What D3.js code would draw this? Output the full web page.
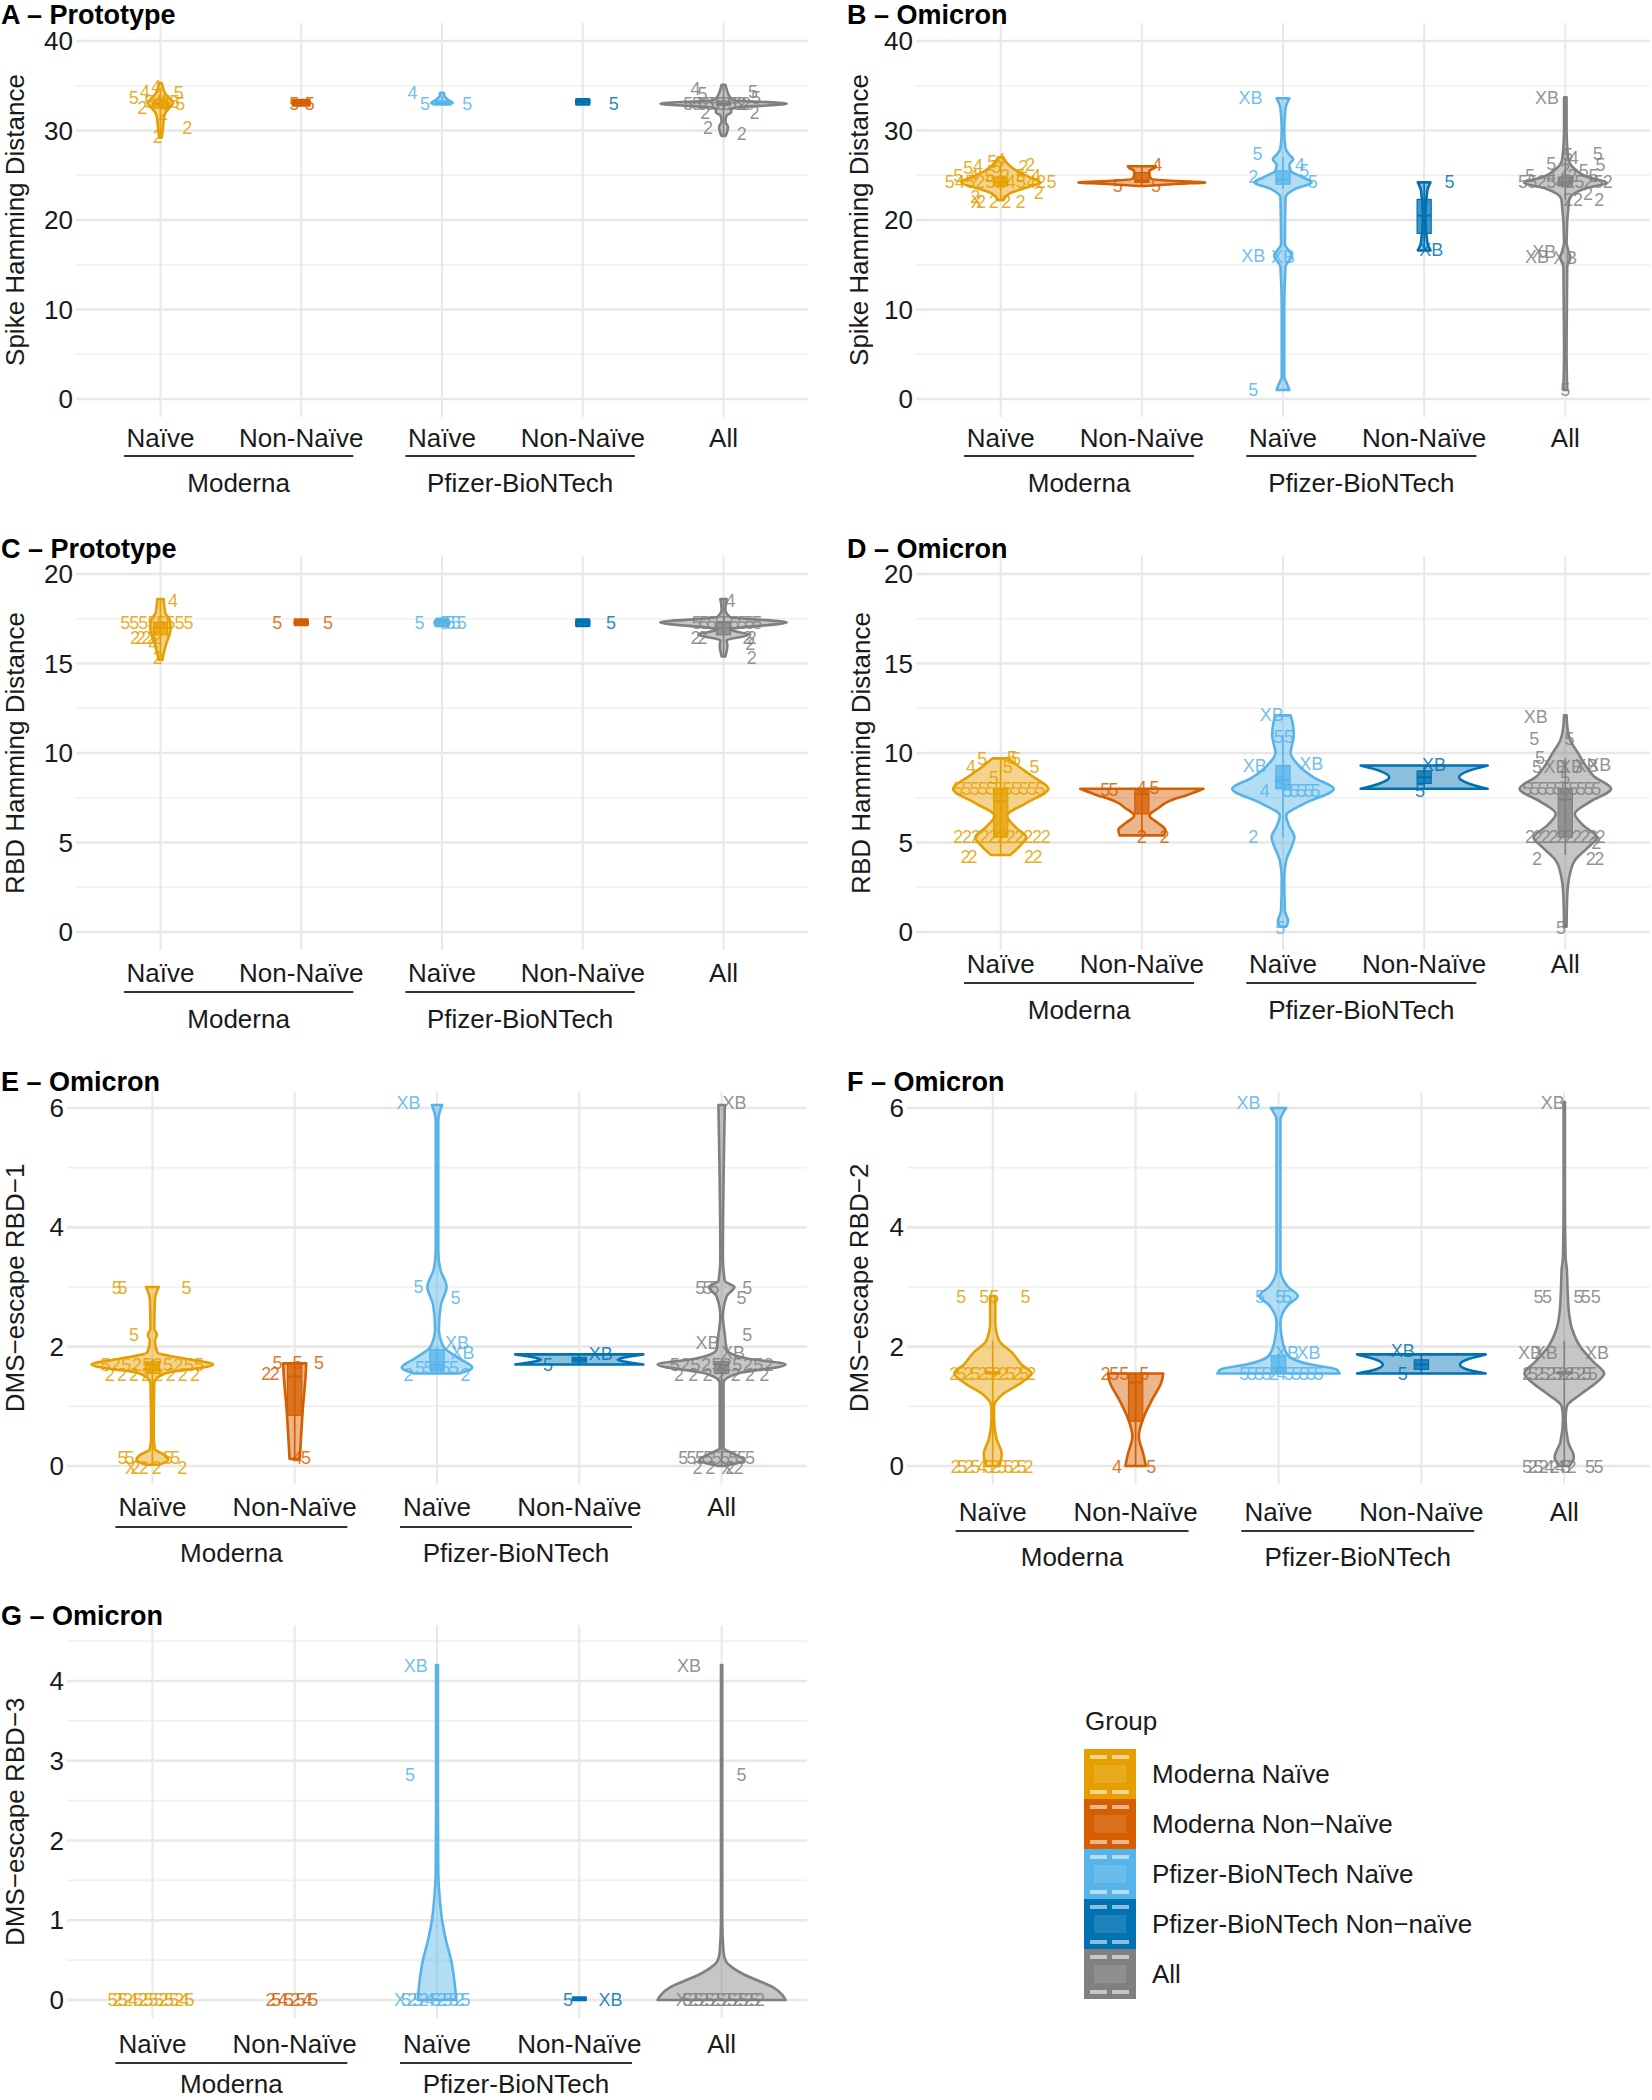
<!DOCTYPE html>
<html>
<head>
<meta charset="utf-8">
<script src="https://cdn.jsdelivr.net/npm/d3@7"></script>
<style>
  body { margin: 0; background: #fff; }
  text { font-family: "Liberation Sans", Arial, sans-serif; }
</style>
</head>
<body>
<div id="chart"></div>
<script>
// ---- data -------------------------------------------------------------
var groups = ["Moderna Naïve", "Moderna Non−Naïve", "Pfizer-BioNTech Naïve", "Pfizer-BioNTech Non−naïve", "All"];
var groupColors = ["#E69F00", "#D55E00", "#56B4E9", "#0072B2", "#808080"];
var xTickLabels = ["Naïve", "Non-Naïve", "Naïve", "Non-Naïve", "All"];
var vaccines = ["Moderna", "Pfizer-BioNTech"];

var panelTitles = ["A – Prototype", "B – Omicron", "C – Prototype", "D – Omicron", "E – Omicron", "F – Omicron", "G – Omicron"];
var yTitles = ["Spike Hamming Distance", "Spike Hamming Distance", "RBD Hamming Distance", "RBD Hamming Distance",
               "DMS−escape RBD−1", "DMS−escape RBD−2", "DMS−escape RBD−3"];
var yTicks = [[0,10,20,30,40],[0,10,20,30,40],[0,5,10,15,20],[0,5,10,15,20],[0,2,4,6],[0,2,4,6],[0,1,2,3,4]];
var yMinor = [[5,15,25,35],[5,15,25,35],[2.5,7.5,12.5,17.5],[2.5,7.5,12.5,17.5],[1,3,5],[1,3,5],[0.5,1.5,2.5,3.5,4.5]];

// violin outlines per group: [value, relative half width]
var violinA = [
  [[29.2,0.02],[30.3,0.04],[31.2,0.05],[32.0,0.08],[32.6,0.15],[33.1,0.2],[33.6,0.14],[34.2,0.07],[34.8,0.04],[35.3,0.02]],
  [[32.8,0.13],[33.4,0.13]],
  [[32.9,0.12],[33.1,0.17],[33.4,0.1],[33.8,0.04],[34.2,0.03]],
  [[32.9,0.1],[33.5,0.1]],
  [[29.4,0.03],[29.7,0.05],[30.4,0.07],[31.0,0.03],[31.7,0.05],[32.0,0.12],[32.5,0.12],[33.0,1.0],[33.4,0.15],[34.0,0.08],[34.6,0.05],[35.1,0.03]]
];
var boxA = [[29.3,32.5,33,33.5,34.8],[32.9,33,33.1,33.2,33.3],[33,33,33.1,33.3,33.8],[32.9,33.1,33.2,33.4,33.5],[29.5,32.8,33,33.3,35]];
var labelsA = [
  [0,33.6,"5",-0.19],[0,34.3,"4",-0.11],[0,34.9,"4",-0.03],[0,34.2,"5",0.13],[0,33.0,"5",0.14],[0,33.0,"5",0.04],
  [0,32.5,"2",-0.13],[0,31.8,"2",0.02],[0,30.3,"2",0.19],[0,29.3,"2",-0.02],
  [1,33.0,"5",-0.05],[1,33.0,"5",0.06],
  [2,34.2,"4",-0.21],[2,33.0,"5",-0.12],[2,33.0,"5",0.18],
  [3,33.0,"5",0.22],
  [4,34.6,"4",-0.2],[4,34.1,"5",-0.15],[4,34.3,"5",0.21],[4,33.6,"5",0.23],[4,33.0,"5",-0.25],[4,33.0,"5",-0.19],
  [4,33.0,"5",-0.15],[4,33.0,"2",0.13],[4,33.0,"2",0.16],[4,32.0,"2",-0.13],[4,32.0,"2",0.22],[4,30.3,"2",-0.11],[4,29.6,"2",0.13]
];
var clustersA = [[0,33.2,"5455",-0.08,0.1],[4,33.0,"555255",-0.1,0.1]];

var violinB = [
  [[22.2,0.04],[23.0,0.15],[23.6,0.4],[24.2,0.62],[24.8,0.45],[25.5,0.25],[26.2,0.12],[27.0,0.04]],
  [[23.8,0.05],[24.05,0.6],[24.2,1.0],[24.35,0.55],[24.6,0.15],[25.0,0.12],[25.5,0.12],[25.8,0.2],[26.0,0.22]],
  [[1.0,0.1],[1.6,0.07],[2.5,0.02],[10,0.02],[14.8,0.04],[15.5,0.1],[16.0,0.14],[16.5,0.1],[17.3,0.03],[22.5,0.04],[23.5,0.2],
   [24.2,0.45],[24.8,0.3],[25.5,0.12],[26.2,0.1],[26.8,0.16],[27.3,0.1],[28.0,0.04],[30,0.02],[32.5,0.04],[33.6,0.1]],
  [[16.6,0.1],[17.5,0.05],[20.4,0.02],[23.3,0.05],[24.2,0.1]],
  [[1.0,0.03],[5,0.02],[14.8,0.03],[15.8,0.08],[16.5,0.05],[17.5,0.02],[22.3,0.06],[23.5,0.3],[24.2,0.65],[24.8,0.35],
   [25.7,0.15],[26.5,0.06],[27.3,0.04],[30,0.02],[33.7,0.02]]
];
var boxB = [[22.2,23.8,24.2,24.8,26.5],[23.9,24.2,24.4,25.3,26],[23.5,24.0,24.5,25.5,27],[16.6,18.5,20.5,22.3,24.2],[22.2,23.8,24.2,24.8,27]];
var labelsB = [
  [0,25.8,"5",-0.23],[0,26.0,"4",-0.16],[0,26.5,"5",-0.06],[0,26.7,"4",0.0],[0,25.9,"5",-0.03],[0,26.1,"2",0.21],[0,25.9,"2",0.16],
  [0,22.0,"2",-0.14],[0,22.0,"X",-0.17],[0,22.0,"2",-0.05],[0,22.0,"2",0.04],[0,22.0,"2",0.14],[0,22.6,"2",-0.18],[0,23.0,"2",0.27],
  [1,26.1,"4",0.11],[1,23.8,"5",-0.17],[1,23.8,"5",0.1],
  [2,33.6,"XB",-0.23],[2,27.4,"5",-0.18],[2,26.2,"4",0.12],[2,25.5,"5",0.15],[2,24.3,"5",0.21],[2,24.8,"2",-0.21],
  [2,16.0,"XB",-0.21],[2,15.9,"XB",0.0],[2,1.0,"5",-0.21],
  [3,24.2,"5",0.18],[3,16.6,"XB",0.05],
  [4,33.6,"XB",-0.13],[4,27.4,"5",0.23],[4,27.3,"5",0.02],[4,26.9,"4",0.06],[4,26.1,"5",0.25],[4,26.3,"5",-0.1],[4,25.6,"2",0.0],
  [4,25.5,"5",0.13],[4,22.2,"2",0.02],[4,22.2,"2",0.09],[4,22.2,"2",0.24],[4,22.9,"2",0.16],[4,16.4,"XB",-0.15],[4,15.9,"XB",-0.2],
  [4,15.7,"XB",0.0],[4,1.0,"5",0.0]
];
var clustersB = [[0,24.2,"54525245425",-0.36,0.36],[0,24.9,"545254",-0.3,0.25],[4,24.2,"5525425252",-0.3,0.3],[4,24.9,"5425",-0.25,0.2]];

var violinC = [
  [[15.2,0.03],[15.7,0.06],[16.2,0.1],[16.6,0.14],[17.0,0.16],[17.4,0.15],[17.8,0.08],[18.2,0.06],[18.6,0.05]],
  [[17.15,0.1],[17.45,0.1]],
  [[17.1,0.1],[17.3,0.12],[17.5,0.08]],
  [[17.1,0.1],[17.45,0.1]],
  [[15.4,0.03],[16.0,0.06],[16.3,0.05],[16.6,0.4],[16.9,0.1],[17.3,1.0],[17.6,0.1],[18.0,0.03],[18.6,0.05]]
];
var boxC = [[15.3,16.6,17.0,17.3,18.6],[17.15,17.25,17.3,17.35,17.45],[17.1,17.2,17.3,17.4,17.5],[17.1,17.2,17.3,17.35,17.45],[15.4,16.6,17.3,17.3,18.6]];
var labelsC = [
  [0,18.5,"4",0.09],[0,16.1,"4",-0.05],[0,15.3,"2",-0.02],
  [1,17.25,"5",-0.17],[1,17.25,"5",0.19],
  [2,17.25,"5",-0.16],
  [3,17.25,"5",0.2],
  [4,18.5,"4",0.05],[4,16.1,"2",0.19],[4,15.3,"2",0.2]
];
var clustersC = [[0,17.25,"55555555",-0.25,0.2],[0,16.4,"22222",-0.18,-0.02],[2,17.25,"5555",0.02,0.14],
                 [4,17.25,"555555555",-0.19,0.24],[4,16.45,"22",-0.2,-0.15],[4,16.45,"22",0.17,0.2]];

var violinD = [
  [[4.3,0.15],[4.8,0.3],[5.3,0.4],[5.8,0.25],[6.5,0.1],[7.2,0.4],[8.0,0.75],[8.7,0.5],[9.2,0.3],[9.7,0.13]],
  [[5.4,0.35],[5.7,0.37],[6.1,0.25],[6.5,0.12],[6.9,0.25],[7.3,0.42],[7.7,0.75],[8.0,0.97]],
  [[0.3,0.05],[0.6,0.08],[1.2,0.03],[3,0.02],[4,0.05],[4.8,0.14],[5.3,0.18],[5.9,0.1],[6.5,0.05],[7.2,0.35],[8.0,0.8],
   [8.6,0.5],[9.3,0.25],[10,0.12],[11,0.17],[11.7,0.15],[12.1,0.12]],
  [[8.0,1.0],[8.3,0.7],[8.65,0.55],[9.0,0.7],[9.3,1.0]],
  [[0.3,0.02],[2,0.03],[3.2,0.07],[4,0.15],[4.7,0.35],[5.3,0.5],[5.9,0.3],[6.6,0.15],[7.3,0.4],[8,0.72],[8.7,0.45],
   [9.4,0.3],[10,0.2],[10.7,0.08],[11.5,0.03],[12.1,0.02]]
];
var boxD = [[4.3,5.3,7.3,8.0,9.7],[5.4,6.6,7.7,8.0,8.0],[5.3,8.0,8.5,9.3,11.0],[8.0,8.3,8.65,9.0,9.3],[4.3,5.3,7.4,8.0,9.7]];
var labelsD = [
  [0,9.65,"5",-0.13],[0,9.65,"5",0.11],[0,9.7,"5",0.08],[0,9.2,"4",-0.21],[0,9.2,"5",0.24],[0,9.2,"5",0.05],[0,8.6,"5",-0.05],
  [0,4.2,"2",-0.25],[0,4.2,"2",-0.2],[0,4.2,"2",0.2],[0,4.2,"2",0.26],
  [1,7.95,"5",-0.26],[1,7.95,"5",-0.2],[1,8.05,"4",0.0],[1,8.05,"5",0.09],[1,5.3,"2",0.0],[1,5.3,"2",0.16],
  [2,12.1,"XB",-0.08],[2,10.9,"5",-0.03],[2,10.9,"5",0.04],[2,9.3,"XB",-0.2],[2,9.4,"XB",0.2],[2,7.9,"4",-0.13],
  [2,8.3,"5",-0.03],[2,5.3,"2",-0.21],[2,0.25,"5",-0.02],
  [3,9.35,"XB",0.07],[3,7.9,"5",-0.03],
  [4,12.0,"XB",-0.21],[4,10.8,"5",-0.22],[4,10.8,"5",0.03],[4,9.7,"5",-0.18],[4,9.2,"5",-0.2],[4,9.2,"XB",-0.07],
  [4,9.2,"XB",0.04],[4,9.3,"XB",0.15],[4,9.35,"XB",0.24],[4,8.6,"5",0.0],[4,5.0,"2",0.22],[4,4.1,"2",-0.2],
  [4,4.1,"2",0.18],[4,4.1,"2",0.24],[4,0.25,"5",-0.03]
];
var clustersD = [[0,8.0,"55555555555",-0.3,0.28],[0,5.3,"22222222222",-0.3,0.32],[2,7.9,"55555",0.03,0.23],
                 [4,8.0,"5555555555",-0.27,0.22],[4,5.3,"2222222222",-0.25,0.25]];

var violinE = [
  [[0.02,0.1],[0.1,0.25],[0.18,0.2],[0.28,0.04],[0.5,0.02],[1.4,0.03],[1.55,0.2],[1.7,0.95],[1.8,0.5],[1.9,0.08],
   [2.1,0.04],[2.2,0.07],[2.3,0.03],[2.8,0.04],[3.0,0.1]],
  [[0.12,0.08],[0.5,0.1],[1.0,0.13],[1.5,0.17],[1.72,0.18]],
  [[1.55,0.35],[1.65,0.55],[1.8,0.35],[2.0,0.1],[2.3,0.03],[2.7,0.06],[3.0,0.15],[3.3,0.05],[3.6,0.02],[5.8,0.02],[6.05,0.08]],
  [[1.7,1.0],[1.75,0.7],[1.78,0.6],[1.82,0.7],[1.87,1.0]],
  [[0,0.05],[0.1,0.35],[0.2,0.2],[0.3,0.03],[1.4,0.03],[1.55,0.25],[1.7,1.0],[1.8,0.4],[1.95,0.08],[2.2,0.05],[2.5,0.02],
   [2.85,0.08],[3.0,0.2],[3.1,0.05],[3.5,0.02],[6.05,0.05]]
];
var boxE = [[0,1.55,1.7,1.75,1.8],[0.12,0.85,1.5,1.72,1.72],[1.55,1.6,1.7,1.95,2.0],[1.7,1.74,1.78,1.82,1.87],[0,1.55,1.7,1.75,1.8]];
var labelsE = [
  [0,2.99,"5",-0.25],[0,2.99,"5",-0.21],[0,2.99,"5",0.24],[0,2.2,"5",-0.13],[0,0.13,"5",-0.21],[0,0.13,"5",-0.16],
  [0,0.13,"5",0.11],[0,0.13,"5",0.16],[0,-0.04,"X",-0.15],[0,-0.04,"2",-0.12],[0,-0.04,"2",-0.06],[0,-0.04,"2",0.03],[0,-0.04,"2",0.21],
  [1,1.72,"5",-0.12],[1,1.72,"5",0.02],[1,1.72,"5",0.17],[1,1.55,"2",-0.2],[1,1.55,"2",-0.14],[1,0.13,"4",0.02],[1,0.13,"5",0.08],
  [2,6.08,"XB",-0.2],[2,3.0,"5",-0.13],[2,2.82,"5",0.13],[2,2.06,"XB",0.14],[2,1.9,"XB",0.18],[2,1.52,"2",-0.2],[2,1.52,"2",0.2],
  [3,1.88,"XB",0.15],[3,1.69,"5",-0.22],
  [4,6.08,"XB",0.09],[4,2.99,"5",-0.15],[4,2.99,"5",-0.1],[4,2.99,"5",-0.05],[4,2.99,"5",0.18],[4,2.82,"5",0.14],
  [4,2.2,"5",0.18],[4,2.06,"XB",-0.1],[4,1.9,"XB",0.08],[4,-0.04,"2",-0.17],[4,-0.04,"2",-0.08],[4,-0.04,"X",0.04],
  [4,-0.04,"2",0.06],[4,-0.04,"2",0.12]
];
var clustersE = [[0,1.7,"5252525255",-0.33,0.33],[0,1.52,"22222222",-0.3,0.3],[2,1.65,"55555",-0.12,0.12],
                 [4,1.7,"5252525252",-0.33,0.33],[4,1.52,"2222222",-0.3,0.3],[4,0.13,"555555555",-0.27,0.2]];

var violinF = [
  [[0,0.1],[0.2,0.14],[0.45,0.06],[0.8,0.02],[1.0,0.02],[1.2,0.15],[1.4,0.45],[1.55,0.6],[1.7,0.45],[1.9,0.3],[2.1,0.1],[2.4,0.04],[2.85,0.04]],
  [[0,0.16],[0.2,0.12],[0.5,0.05],[0.8,0.12],[1.1,0.25],[1.4,0.4],[1.55,0.43]],
  [[1.55,0.95],[1.62,0.9],[1.7,0.5],[1.85,0.15],[2.1,0.06],[2.4,0.03],[2.7,0.15],[2.85,0.3],[3.0,0.15],[3.3,0.03],[5.8,0.03],[6.0,0.12]],
  [[1.55,1.0],[1.62,0.7],[1.7,0.6],[1.78,0.7],[1.87,1.0]],
  [[0,0.08],[0.15,0.15],[0.4,0.06],[0.8,0.02],[1.0,0.04],[1.2,0.25],[1.4,0.5],[1.55,0.62],[1.75,0.45],[2.0,0.25],[2.3,0.12],
   [2.6,0.07],[3.0,0.05],[3.3,0.04],[3.5,0.02],[4.5,0.01],[6.1,0.01]]
];
var boxF = [[0,1.55,1.55,1.58,2.1],[0,0.75,1.4,1.55,1.55],[1.55,1.58,1.65,1.85,1.9],[1.55,1.62,1.7,1.78,1.87],[0,1.55,1.55,1.58,2.1]];
var labelsF = [
  [0,2.84,"5",-0.22],[0,2.84,"5",-0.06],[0,2.84,"5",0.01],[0,2.84,"5",0.23],
  [1,1.55,"2",-0.21],[1,1.55,"5",-0.15],[1,1.55,"5",-0.08],[1,1.55,"5",0.06],[1,-0.02,"4",-0.13],[1,-0.02,"5",0.11],
  [2,6.08,"XB",-0.21],[2,2.84,"5",-0.13],[2,2.84,"5",0.01],[2,2.84,"5",0.06],[2,1.9,"XB",0.06],[2,1.9,"XB",0.21],
  [3,1.92,"XB",-0.13],[3,1.55,"5",-0.13],
  [4,6.08,"XB",-0.08],[4,2.84,"5",-0.18],[4,2.84,"5",-0.12],[4,2.84,"5",0.1],[4,2.84,"5",0.15],[4,2.84,"5",0.22],
  [4,1.9,"XB",-0.24],[4,1.9,"XB",-0.13],[4,1.9,"XB",0.23],[4,-0.02,"5",0.18],[4,-0.02,"5",0.24]
];
var clustersF = [[0,1.55,"252525225252",-0.27,0.27],[0,-0.02,"252545255252",-0.26,0.25],[2,1.55,"55552455555",-0.24,0.28],
                 [4,1.55,"252525225255",-0.26,0.2],[4,-0.02,"525242452",-0.26,0.05]];

var violinG = [
  null,
  null,
  [[0,0.3],[0.25,0.27],[0.5,0.22],[0.75,0.14],[1.0,0.08],[1.3,0.04],[1.6,0.02],[2.5,0.015],[4.2,0.015]],
  [[0,0.1],[0.03,0.1]],
  [[0,1.0],[0.06,0.95],[0.16,0.8],[0.25,0.55],[0.32,0.35],[0.4,0.18],[0.48,0.07],[0.6,0.03],[1.0,0.01],[4.2,0.01]]
];
var boxG = [null, null, null, null, null];
var labelsG = [
  [2,4.19,"XB",-0.15],[2,2.82,"5",-0.19],
  [3,0,"5",-0.08],[3,0,"XB",0.22],
  [4,4.19,"XB",-0.23],[4,2.82,"5",0.14]
];
var clustersG = [[0,0,"5252452555255245",-0.28,0.26],[1,0,"25452545",-0.17,0.13],[2,0,"X52524525525",-0.26,0.2],
                 [4,0,"X52525252525252",-0.28,0.27]];

// ---- layout (pixel positions per panel) --------------------------------
var layout = [
  {x0: 76,  x1: 808,  y0: 399,  yTop: 41,   ext: [-2, 42],     tx: 1,   ty: 24,   ytx: 15,  xly: 447,  bry: 456,  gly: 492},
  {x0: 916, x1: 1650, y0: 399,  yTop: 41,   ext: [-2, 42],     tx: 847, ty: 24,   ytx: 859, xly: 447,  bry: 456,  gly: 492},
  {x0: 76,  x1: 808,  y0: 932,  yTop: 574,  ext: [-1, 21],     tx: 1,   ty: 558,  ytx: 15,  xly: 982,  bry: 992,  gly: 1028},
  {x0: 916, x1: 1650, y0: 932,  yTop: 574,  ext: [-1, 21],     tx: 847, ty: 558,  ytx: 861, xly: 973,  bry: 983,  gly: 1019},
  {x0: 67,  x1: 807,  y0: 1466, yTop: 1108, ext: [-0.3, 6.27], tx: 1,   ty: 1091, ytx: 15,  xly: 1516, bry: 1527, gly: 1562},
  {x0: 907, x1: 1650, y0: 1466, yTop: 1108, ext: [-0.3, 6.27], tx: 847, ty: 1091, ytx: 859, xly: 1521, bry: 1531, gly: 1566},
  {x0: 67,  x1: 807,  y0: 2000, yTop: 1681, ext: [-0.23, 4.7], tx: 1,   ty: 1625, ytx: 15,  xly: 2053, bry: 2063, gly: 2093}
];

var violins = [violinA, violinB, violinC, violinD, violinE, violinF, violinG];
var boxes = [boxA, boxB, boxC, boxD, boxE, boxF, boxG];
var labels = [labelsA, labelsB, labelsC, labelsD, labelsE, labelsF, labelsG];
var clusters = [clustersA, clustersB, clustersC, clustersD, clustersE, clustersF, clustersG];

var svg = d3.select("#chart").append("svg")
    .attr("width", 1652)
    .attr("height", 2100);

function drawPanel(i) {
    var L = layout[i];
    var ticks = yTicks[i];
    var g = svg.append("g");

    var x = d3.scalePoint().domain([0, 1, 2, 3, 4]).range([L.x0, L.x1]).padding(0.6);
    var step = x.step();
    var half = 0.45 * step;
    var y = d3.scaleLinear().domain([0, ticks[ticks.length - 1]]).range([L.y0, L.yTop]);
    var top = y(L.ext[1]), bottom = y(L.ext[0]);

    // grid
    g.selectAll(".minor").data(yMinor[i]).enter().append("line")
        .attr("x1", L.x0).attr("x2", L.x1)
        .attr("y1", function(d) { return y(d); }).attr("y2", function(d) { return y(d); })
        .attr("stroke", "#F0F0F0").attr("stroke-width", 1.6);
    g.selectAll(".major").data(ticks).enter().append("line")
        .attr("x1", L.x0).attr("x2", L.x1)
        .attr("y1", function(d) { return y(d); }).attr("y2", function(d) { return y(d); })
        .attr("stroke", "#E8E8E8").attr("stroke-width", 2.6);
    g.selectAll(".vgrid").data(x.domain()).enter().append("line")
        .attr("x1", function(d) { return x(d); }).attr("x2", function(d) { return x(d); })
        .attr("y1", top).attr("y2", bottom)
        .attr("stroke", "#E8E8E8").attr("stroke-width", 2);

    // violins
    violins[i].forEach(function(prof, k) {
        if (!prof) return;
        var cx = x(k);
        var area = d3.area().curve(d3.curveMonotoneY)
            .y(function(d) { return y(d[0]); })
            .x0(function(d) { return cx - d[1] * half; })
            .x1(function(d) { return cx + d[1] * half; });
        g.append("path")
            .attr("d", area(prof.slice().sort(function(a, b) { return a[0] - b[0]; })))
            .attr("fill", groupColors[k]).attr("fill-opacity", 0.45)
            .attr("stroke", groupColors[k]).attr("stroke-width", 2.6)
            .attr("stroke-linejoin", "round");
    });

    // boxplots
    var bw = 0.1 * step;
    boxes[i].forEach(function(b, k) {
        if (!b) return;
        var cx = x(k);
        g.append("line")
            .attr("x1", cx).attr("x2", cx).attr("y1", y(b[0])).attr("y2", y(b[4]))
            .attr("stroke", groupColors[k]).attr("stroke-width", 1.6);
        g.append("rect")
            .attr("x", cx - bw / 2).attr("width", bw)
            .attr("y", y(b[3])).attr("height", Math.max(2, y(b[1]) - y(b[3])))
            .attr("fill", groupColors[k]).attr("fill-opacity", 0.75)
            .attr("stroke", groupColors[k]).attr("stroke-width", 1.2);
        g.append("line")
            .attr("x1", cx - bw / 2).attr("x2", cx + bw / 2).attr("y1", y(b[2])).attr("y2", y(b[2]))
            .attr("stroke", groupColors[k]).attr("stroke-width", 2);
    });

    // lineage text labels
    var lab = labels[i].slice();
    clusters[i].forEach(function(c) {
        var n = c[2].length;
        for (var j = 0; j < n; j++) {
            var dx = n > 1 ? c[3] + (c[4] - c[3]) * j / (n - 1) : c[3];
            lab.push([c[0], c[1], c[2][j], dx]);
        }
    });
    g.selectAll(".lab").data(lab).enter().append("text")
        .attr("x", function(d) { return x(d[0]) + d[3] * step; })
        .attr("y", function(d) { return y(d[1]); })
        .attr("text-anchor", "middle").attr("dominant-baseline", "central")
        .attr("font-size", 18)
        .attr("fill", function(d) { return groupColors[d[0]]; })
        .attr("fill-opacity", 0.85)
        .text(function(d) { return d[2]; });

    // y tick labels
    g.selectAll(".ytick").data(ticks).enter().append("text")
        .attr("x", L.x0 - 3).attr("y", function(d) { return y(d); })
        .attr("text-anchor", "end").attr("dominant-baseline", "central")
        .attr("font-size", 26).attr("fill", "#1a1a1a")
        .text(function(d) { return d; });

    // x tick labels
    g.selectAll(".xtick").data(x.domain()).enter().append("text")
        .attr("x", function(d) { return x(d); }).attr("y", L.xly)
        .attr("text-anchor", "middle")
        .attr("font-size", 26).attr("fill", "#1a1a1a")
        .text(function(d) { return xTickLabels[d]; });

    // nested vaccine brackets
    [0, 1].forEach(function(v) {
        var a = x(v * 2) - 0.26 * step, b = x(v * 2 + 1) + 0.37 * step;
        g.append("line").attr("x1", a).attr("x2", b).attr("y1", L.bry).attr("y2", L.bry)
            .attr("stroke", "#333").attr("stroke-width", 2);
        g.append("text").attr("x", (a + b) / 2).attr("y", L.gly)
            .attr("text-anchor", "middle").attr("font-size", 26).attr("fill", "#1a1a1a")
            .text(vaccines[v]);
    });

    // axis title
    g.append("text")
        .attr("transform", "translate(" + L.ytx + "," + ((top + bottom) / 2) + ") rotate(-90)")
        .attr("text-anchor", "middle").attr("dominant-baseline", "central")
        .attr("font-size", 26).attr("fill", "#1a1a1a")
        .text(yTitles[i]);

    // panel title
    g.append("text").attr("x", L.tx).attr("y", L.ty)
        .attr("font-size", 27).attr("font-weight", "bold").attr("fill", "#000")
        .text(panelTitles[i]);
}

for (var i = 0; i < 7; i++) drawPanel(i);

// ---- legend ------------------------------------------------------------
var leg = svg.append("g").attr("transform", "translate(1084,1749)");
leg.append("text").attr("x", 1).attr("y", -19).attr("font-size", 26).attr("fill", "#1a1a1a").text("Group");
var keys = leg.selectAll(".key").data(groups).enter().append("g")
    .attr("transform", function(d, k) { return "translate(0," + (k * 50) + ")"; });
keys.append("rect").attr("width", 52).attr("height", 50)
    .attr("fill", function(d, k) { return groupColors[k]; });
[[6, 6], [28, 6], [6, 41], [28, 41]].forEach(function(p) {
    keys.append("rect").attr("x", p[0]).attr("y", p[1]).attr("width", 17).attr("height", 4)
        .attr("fill", "#fff").attr("fill-opacity", 0.55);
});
keys.append("rect").attr("x", 10).attr("y", 16).attr("width", 32).attr("height", 18)
    .attr("fill", "#fff").attr("fill-opacity", 0.12);
keys.append("text").attr("x", 68).attr("y", 25).attr("dominant-baseline", "central")
    .attr("font-size", 26).attr("fill", "#1a1a1a")
    .text(function(d) { return d; });
</script>
</body>
</html>
